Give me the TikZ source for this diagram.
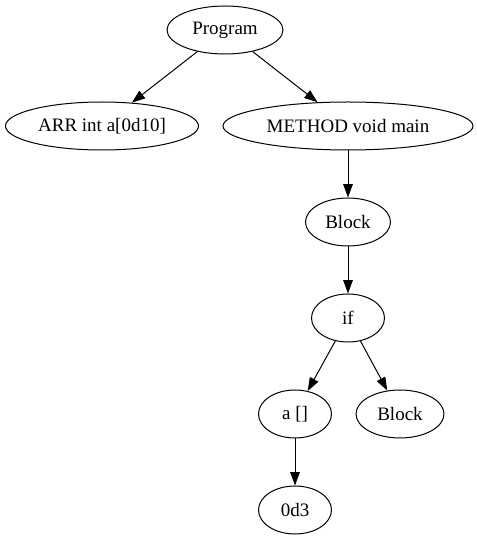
\documentclass[tikz,border=0pt]{standalone}
\usepackage{fontspec}
\setmainfont{Liberation Serif}
\usetikzlibrary{shapes.geometric,arrows.meta}
\begin{document}
\begin{tikzpicture}[x=1pt,y=1pt,
  treenode/.style={draw,ellipse,inner sep=0pt,minimum height=48pt,font=\fontsize{19pt}{22pt}\selectfont,line width=1pt},
  edge/.style={draw,line width=1pt,-{Triangle[length=13.3pt,width=9.5pt]}}]
\useasboundingbox (0,0) rectangle (477,539);
\node[treenode,minimum width=116pt] (prog) at (225,509) {Program};
\node[treenode,minimum width=193pt] (arr) at (102,413) {ARR int a[0d10]};
\node[treenode,minimum width=250pt] (meth) at (348,413) {METHOD void main};
\node[treenode,minimum width=85pt] (blk1) at (348,317) {Block};
\node[treenode,minimum width=73pt] (if) at (348,221) {if};
\node[treenode,minimum width=73pt] (arrref) at (295,125) {a []};
\node[treenode,minimum width=88pt] (blk2) at (400,125) {Block};
\node[treenode,minimum width=73pt] (lit) at (295,29) {0d3};
\draw[edge] (prog) -- (arr);
\draw[edge] (prog) -- (meth);
\draw[edge] (meth) -- (blk1);
\draw[edge] (blk1) -- (if);
\draw[edge] (if) -- (arrref);
\draw[edge] (if) -- (blk2);
\draw[edge] (arrref) -- (lit);
\end{tikzpicture}
\end{document}
